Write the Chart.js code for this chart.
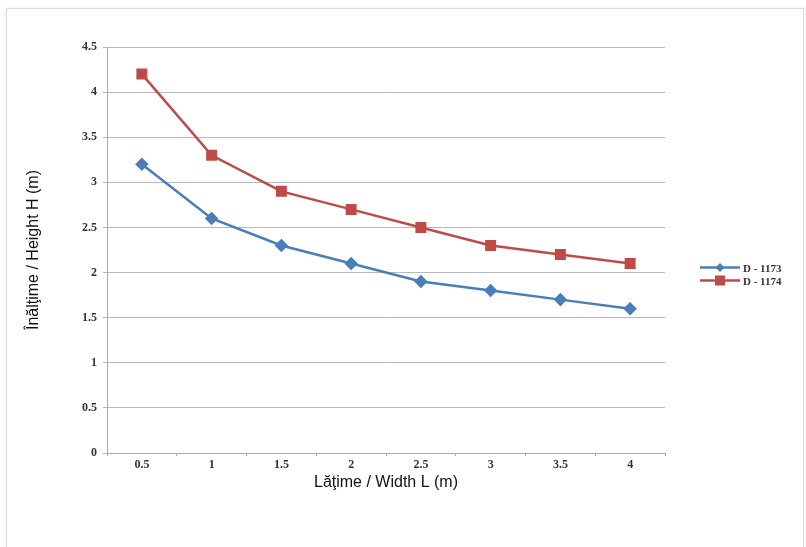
<!DOCTYPE html>
<html>
<head>
<meta charset="utf-8">
<script src="https://cdn.jsdelivr.net/npm/chart.js@4"></script>
<style>
  body { margin: 0; background: #fff; }
  #wrap { position: relative; width: 806px; height: 547px; }
  #frame { position: absolute; left: 6px; top: 8px; width: 796px; height: 545px; border: 1px solid #ddd; box-shadow: 0 0 3px #e4e4e4; }
  #legend { position: absolute; left: 700px; top: 261px; font: bold 11px "Liberation Serif", serif; color: #333; }
  .item { display: flex; align-items: center; height: 13px; }
  .item canvas { margin-right: 3px; }
</style>
</head>
<body>
<div id="wrap">
  <div id="frame"></div>
  <canvas id="lineChart" width="806" height="547"></canvas>
  <div id="legend"></div>
</div>
<script>
// values
var widths = ['0.5', '1', '1.5', '2', '2.5', '3', '3.5', '4'];
var d1173 = [3.2, 2.6, 2.3, 2.1, 1.9, 1.8, 1.7, 1.6];
var d1174 = [4.2, 3.3, 2.9, 2.7, 2.5, 2.3, 2.2, 2.1];
var seriesNames = ['D - 1173', 'D - 1174'];

var blue = '#4a7ebb';
var red = '#be4b48';

document.addEventListener('DOMContentLoaded', function () {
    var ctx = document.getElementById('lineChart').getContext('2d');

    var myChart = new Chart(ctx, {
        type: 'line',
        data: {
            labels: widths,
            datasets: [{
                label: seriesNames[0],
                data: d1173,
                borderColor: blue,
                backgroundColor: blue,
                borderWidth: 2.5,
                pointStyle: 'rectRot',
                pointRadius: 5,
                tension: 0
            }, {
                label: seriesNames[1],
                data: d1174,
                borderColor: red,
                backgroundColor: red,
                borderWidth: 2.5,
                pointStyle: 'rect',
                pointRadius: 6,
                tension: 0
            }]
        },
        options: {
            responsive: false,
            animation: false,
            layout: { padding: { left: 20, top: 47, right: 141, bottom: 51 } },
            plugins: {
                legend: { display: false },
                tooltip: { enabled: false }
            },
            scales: {
                x: {
                    offset: true,
                    grid: {
                        offset: true,
                        drawOnChartArea: false,
                        tickLength: 3,
                        color: '#aaa'
                    },
                    border: { color: '#aaa' },
                    ticks: {
                        color: '#333',
                        padding: 2,
                        font: { family: 'Liberation Serif', size: 12, weight: 'bold' }
                    },
                    title: {
                        display: true,
                        text: 'Lăţime / Width L (m)',
                        color: '#111',
                        padding: { top: 4 },
                        font: { family: 'Liberation Sans', size: 16 }
                    },
                    afterFit: function (scale) { scale.height = 43; }
                },
                y: {
                    min: 0,
                    max: 4.5,
                    ticks: {
                        stepSize: 0.5,
                        color: '#333',
                        padding: 6,
                        font: { family: 'Liberation Serif', size: 12, weight: 'bold' },
                        callback: function (value) { return String(Number(value)); }
                    },
                    grid: { color: '#b8b8b8', tickLength: 4 },
                    border: { color: '#aaa' },
                    title: {
                        display: true,
                        text: 'Înălţime / Height H (m)',
                        color: '#111',
                        font: { family: 'Liberation Sans', size: 16 }
                    },
                    afterFit: function (scale) { scale.width = 87; }
                }
            }
        }
    });

    // legend: line with marker, like the original
    var legend = document.getElementById('legend');
    myChart.data.datasets.forEach(function (ds) {
        var row = document.createElement('div');
        row.className = 'item';
        var c = document.createElement('canvas');
        c.width = 40; c.height = 13;
        var g = c.getContext('2d');
        g.strokeStyle = ds.borderColor;
        g.lineWidth = 2.5;
        g.beginPath(); g.moveTo(0, 6.5); g.lineTo(40, 6.5); g.stroke();
        g.fillStyle = ds.backgroundColor;
        if (ds.pointStyle === 'rect') {
            g.fillRect(15, 1.5, 10, 10);
        } else {
            g.beginPath(); g.moveTo(20, 2); g.lineTo(24.5, 6.5); g.lineTo(20, 11); g.lineTo(15.5, 6.5); g.closePath(); g.fill();
        }
        row.appendChild(c);
        row.appendChild(document.createTextNode(ds.label));
        legend.appendChild(row);
    });
});
</script>
</body>
</html>
